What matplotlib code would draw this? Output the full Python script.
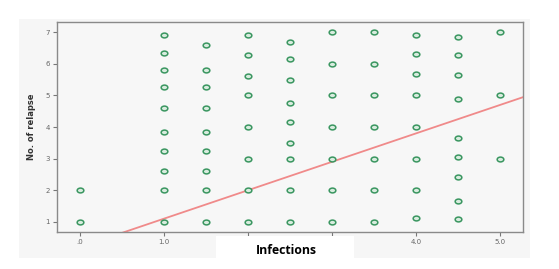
import matplotlib.pyplot as plt
from matplotlib.patches import Rectangle
from matplotlib.path import Path
from matplotlib.transforms import Affine2D

# data
x_cols = [0.0, 1.0, 1.5, 2.0, 2.5, 3.0, 3.5, 4.0, 4.5, 5.0]
y_cols = [
    [1, 2],
    [1, 2, 2.6, 3.25, 3.85, 4.6, 5.25, 5.8, 6.35, 6.9],
    [1, 2, 2.6, 3.25, 3.85, 4.6, 5.25, 5.8, 6.6],
    [1, 2, 3, 4, 5, 5.6, 6.27, 6.9],
    [1, 2, 3, 3.5, 4.15, 4.75, 5.5, 6.15, 6.7],
    [1, 2, 3, 4, 5, 6, 7],
    [1, 2, 3, 4, 5, 6, 7],
    [1.12, 2, 3, 4, 5, 5.67, 6.3, 6.9],
    [1.08, 1.67, 2.43, 3.06, 3.65, 4.88, 5.63, 6.27, 6.85],
    [3, 5, 7],
]
fit_intercept = 0.2
fit_slope = 0.9

xticks = [0, 1, 2, 3, 4, 5]
xticklabels = [".0", "1.0", "2.0", "3.0", "4.0", "5.0"]
yticks = [1, 2, 3, 4, 5, 6, 7]

# flattened circle, the original picture was squeezed vertically
ellipse = Path.unit_circle().transformed(Affine2D().scale(1.0, 0.72))

fig = plt.figure(figsize=(5.59, 2.69), dpi=100)
# light grey panel behind everything
fig.patches.append(Rectangle((19/559, 1-258/269), (530-19)/559, (258-19)/269,
                             transform=fig.transFigure, facecolor='#f6f6f6',
                             edgecolor='none', zorder=-1))

ax = fig.add_axes([57/559, 1-232/269, (523-57)/559, (232-22)/269])
ax.set_zorder(1)
ax.set_facecolor('#f7f7f7')

xs, ys = [], []
for xv, col in zip(x_cols, y_cols):
    for yv in col:
        xs.append(xv)
        ys.append(yv)
ax.plot(xs, ys, linestyle='none', marker=ellipse, markersize=4.8,
        markerfacecolor='#d9ecdf', markeredgecolor='#3a9660',
        markeredgewidth=1.1, zorder=3)

ax.set_xlim(-0.27, 5.27)
ax.set_ylim(0.68, 7.32)
lx = [-0.27, 5.27]
ax.plot(lx, [fit_intercept + fit_slope * v for v in lx], color='#f08a8a',
        linewidth=1.3, zorder=2)

ax.set_xticks(xticks)
ax.set_xticklabels(xticklabels)
ax.set_yticks(yticks)
ax.tick_params(axis='both', direction='out', length=3, width=0.8,
               color='#777777', labelsize=5, labelcolor='#666666', pad=2)
for s in ax.spines.values():
    s.set_color('#8a8a8a')
    s.set_linewidth(1.0)

ax.set_ylabel("No. of relapse", fontsize=6, color='#333333',
              fontname='Liberation Sans Narrow', fontweight='bold', labelpad=7)

# white box with the x label
fig.patches.append(Rectangle((216/559, 1-258/269), (354-216)/559, (258-236)/269,
                             transform=fig.transFigure, facecolor='white',
                             edgecolor='none', zorder=5))
fig.text(286/559, 1-251/269, "Infections", ha='center', va='center',
         fontsize=8.8, fontweight='bold', fontname='Open Sans', zorder=6)

fig.savefig("out.png", dpi=100)
